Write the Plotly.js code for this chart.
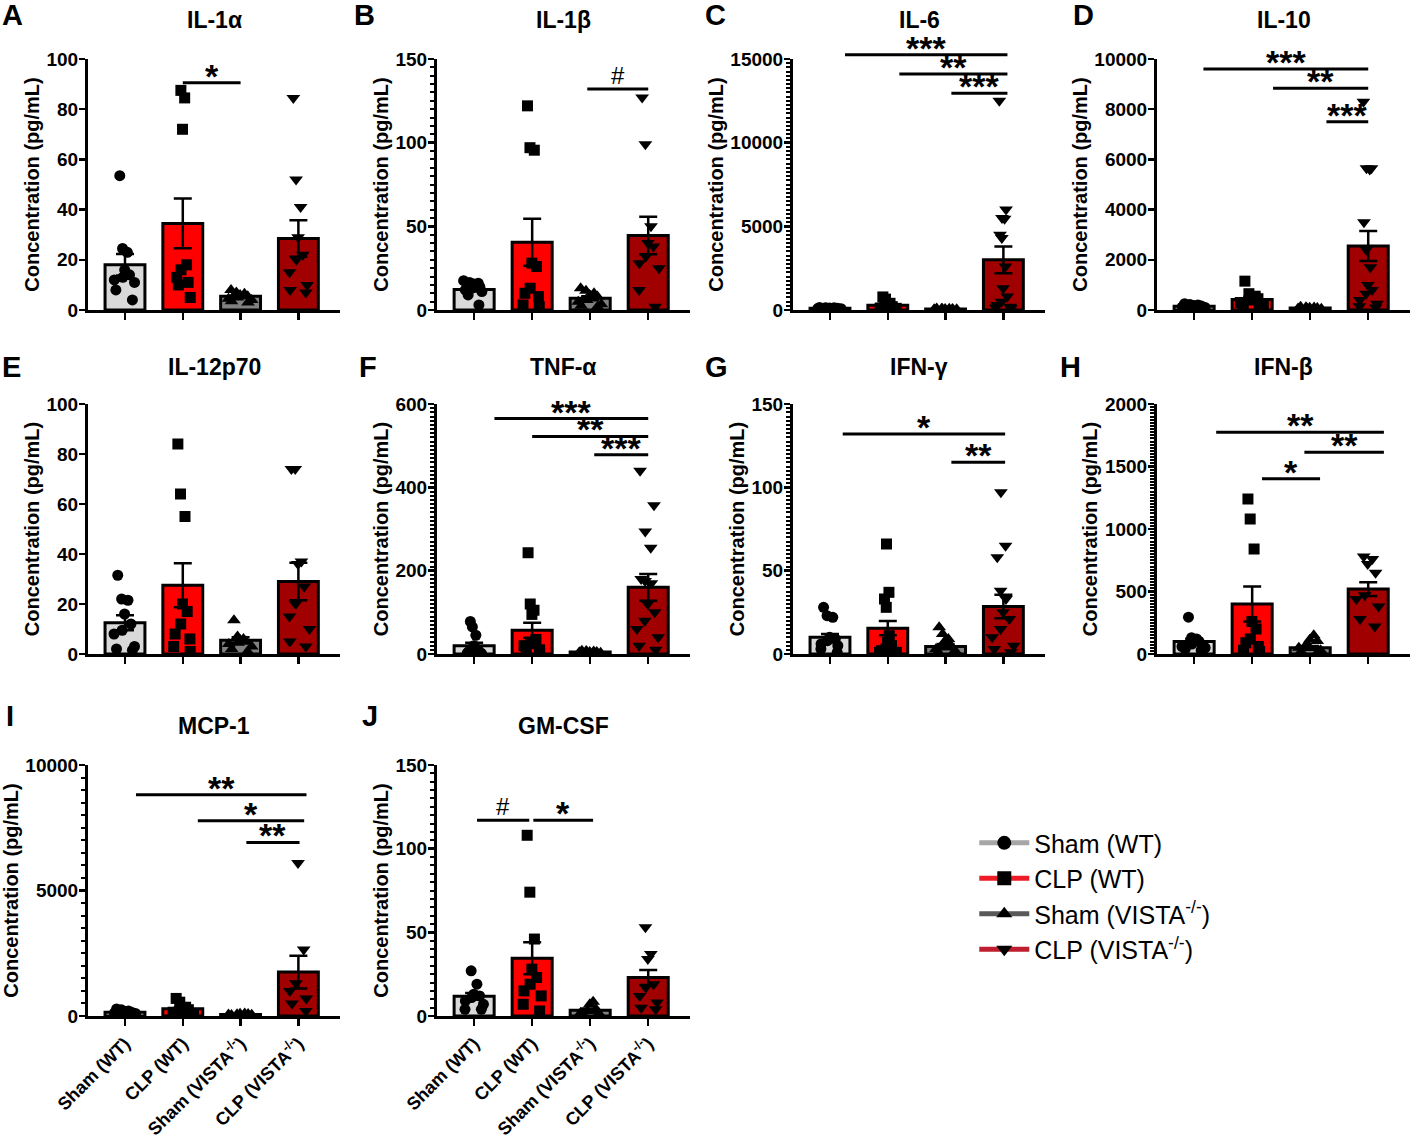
<!DOCTYPE html>
<html><head><meta charset="utf-8">
<script src="https://cdn.plot.ly/plotly-3.0.1.min.js"></script>
<style>body{margin:0;background:#fff}#chart{width:1412px;height:1139px}</style>
</head><body><div id="chart"></div><script>
// ---------- data ----------
const groups = ['Sham (WT)', 'CLP (WT)', 'Sham (VISTA<sup>-/-</sup>)', 'CLP (VISTA<sup>-/-</sup>)'];

const il1a_mean = [18, 34.5, 5.5, 28.5];
const il1a_sem  = [4.3, 9.9, 0.7, 7.3];
const il1a_pts  = [[53.5,24.5,23,16,14,13,12,11,8,4],[87.5,84.5,72,18,16,13,11,10,5],[8,7,6.5,6,5.5,5,4.5,4,3.5,3],[84.5,52,41,29,22,20,15,10,8,7]];
const il1a_sig  = [[1,2,90.5,'*']];

const il1b_mean = [12.2, 40.5, 7, 44.5];
const il1b_sem  = [1.2, 14, 1.2, 11.2];
const il1b_pts  = [[17.5,16.5,16,15.5,14,13,12,11,9,3],[122,97,95.5,28,26,13,10,8,3,2],[13,11.5,10,9,8,6,5,3.5,2.5,2],[127,99,50,40,38,32,28,25,12,2]];
const il1b_sig  = [[1.95,3.0,132,'#']];

const il6_mean = [100, 290, 60, 3000];
const il6_sem  = [10, 80, 5, 800];
const il6_pts  = [[150,140,130,120,110,100,90,80,70,60],[780,650,400,300,200,150,120,100,80,60],[90,80,70,65,60,55,50,45,40,35],[12500,6000,5500,5450,4500,4300,2600,1300,800,500,300,200,150,100]];
const il6_sig  = [[0.26,3.07,15250,'***'],[1.2,3.07,14100,'**'],[2.1,3.07,12950,'***']];

const il10_mean = [150, 420, 80, 2550];
const il10_sem  = [20, 110, 10, 600];
const il10_pts  = [[250,220,200,180,160,140,120,100,90,70],[1150,650,550,500,450,400,300,200,100,50],[130,110,100,90,80,70,60,50,40,30],[8300,5650,5650,5600,3500,2400,1700,1000,800,650,400,250,150,100]];
const il10_sig  = [[0.16,3.0,9600,'***'],[1.36,3.0,8830,'**'],[2.28,3.0,7500,'***']];

const il12_mean = [12.5, 27.5, 5.5, 29];
const il12_sem  = [3, 8.8, 1.2, 7.5];
const il12_pts  = [[31.5,22,21.5,16,12,9.5,8,3,2,1.5],[84,64,55,20,17,12,8,6,3,1],[13.5,7,6,5.5,5,4.5,4,3,2,1],[74,74,37,36,27,20,15,10,5,3]];
const il12_sig  = [];

const tnfa_mean = [20, 57, 5, 160];
const tnfa_sem  = [7, 18, 1, 32];
const tnfa_pts  = [[78,65,45,20,10,8,5,3,2,1],[243,120,105,95,35,25,20,10,5,2],[8,7,6,5,5,4,4,3,3,2],[440,357,294,255,180,175,170,120,100,80,60,40,20,10]];
const tnfa_sig  = [[0.35,3.0,565,'***'],[1.0,3.0,522,'**'],[2.07,3.0,478,'***']];

const ifng_mean = [10, 15.5, 4.5, 28.5];
const ifng_sem  = [2, 4.3, 1.5, 7];
const ifng_pts  = [[28,23,22,10,9,8,6,5,3,1],[66,37,33,28,11,7,5,3,2,1,1,0.5],[16,12,9,8,5,4,3,2,1,0.5],[97,65,58,38,33,25,21,15,10,5,3,1]];
const ifng_sig  = [[0.22,3.03,132,'*'],[2.1,3.03,115,'**']];

const ifnb_mean = [100, 400, 50, 520];
const ifnb_sem  = [22, 140, 15, 55];
const ifnb_pts  = [[295,130,120,110,100,80,60,50,40,30],[1240,1080,840,260,200,120,90,60,30,20],[150,115,105,80,50,30,20,10],[780,760,720,650,470,440,380,280,220]];
const ifnb_sig  = [[0.38,3.27,1775,'**'],[1.9,3.27,1614,'**'],[1.17,2.17,1402,'*']];

const mcp1_mean = [150, 290, 60, 1750];
const mcp1_sem  = [20, 60, 5, 650];
const mcp1_pts  = [[280,250,200,180,150,140,120,100,80,60],[700,550,350,300,250,200,150,100,80,50],[100,90,80,70,60,50,40,30],[6100,2650,1300,1000,700,500,200]];
const mcp1_sig  = [[0.19,3.14,8810,'**'],[1.26,3.1,7775,'*'],[2.1,3.02,6915,'**']];

const gmcsf_mean = [11.8, 34.5, 3.5, 23];
const gmcsf_sem  = [2, 9.5, 1, 4.5];
const gmcsf_pts  = [[27,19,13,12,11,9,7,4,4],[108,74,46,28,23,19,15,12,7,3],[8.5,7,4,3,2,1.5,1,0.5],[53,37,34,19,17,12,8,5,4]];
const gmcsf_sig  = [[0.05,0.95,117,'#'],[1.02,2.05,117,'*']];

// ---------- panel settings ----------
const panels = [
  {letter:'A', title:'IL-1α',   mean:il1a_mean, sem:il1a_sem, pts:il1a_pts, sig:il1a_sig, ymax:100,   dtick:20,   minor:0,   row:0, col:0, lx:0},
  {letter:'B', title:'IL-1β',   mean:il1b_mean, sem:il1b_sem, pts:il1b_pts, sig:il1b_sig, ymax:150,   dtick:50,   minor:5,   row:0, col:1, lx:352},
  {letter:'C', title:'IL-6',    mean:il6_mean,  sem:il6_sem,  pts:il6_pts,  sig:il6_sig,  ymax:15000, dtick:5000, minor:250, row:0, col:2, lx:703},
  {letter:'D', title:'IL-10',   mean:il10_mean, sem:il10_sem, pts:il10_pts, sig:il10_sig, ymax:10000, dtick:2000, minor:0,   row:0, col:3, lx:1071},
  {letter:'E', title:'IL-12p70',mean:il12_mean, sem:il12_sem, pts:il12_pts, sig:il12_sig, ymax:100,   dtick:20,   minor:0,   row:1, col:0, lx:0},
  {letter:'F', title:'TNF-α',   mean:tnfa_mean, sem:tnfa_sem, pts:tnfa_pts, sig:tnfa_sig, ymax:600,   dtick:200,  minor:10,  row:1, col:1, lx:357},
  {letter:'G', title:'IFN-γ',   mean:ifng_mean, sem:ifng_sem, pts:ifng_pts, sig:ifng_sig, ymax:150,   dtick:50,   minor:2.5, row:1, col:2, lx:703},
  {letter:'H', title:'IFN-β',   mean:ifnb_mean, sem:ifnb_sem, pts:ifnb_pts, sig:ifnb_sig, ymax:2000,  dtick:500,  minor:25,  row:1, col:3, lx:1058},
  {letter:'I', title:'MCP-1',   mean:mcp1_mean, sem:mcp1_sem, pts:mcp1_pts, sig:mcp1_sig, ymax:10000, dtick:5000, minor:500, row:2, col:0, lx:4},
  {letter:'J', title:'GM-CSF',  mean:gmcsf_mean,sem:gmcsf_sem,pts:gmcsf_pts,sig:gmcsf_sig,ymax:150,   dtick:50,   minor:5,   row:2, col:1, lx:360}
];

const W = 1412, H = 1139;
const colPx = [[88,340],[437,690],[793,1045],[1157,1410]];
const rowPx = [[59,310],[404,654],[765,1016]];
const titleY = [20, 367, 726];
const letterY = [15, 367, 716];
const barColors = ['#d9d9d9', '#ff0000', '#808080', '#a00000'];
const legendColors = ['#a6a6a6', '#ee1c25', '#595959', '#be1e2d'];
const symbols = ['circle', 'square', 'triangle-up', 'triangle-down'];
const FONT = 'Liberation Sans, Arial, sans-serif';

const data = [];
const layout = {
  width: W, height: H, margin: {l:0, r:0, t:0, b:0},
  paper_bgcolor: '#fff', plot_bgcolor: 'rgba(0,0,0,0)',
  showlegend: true, hovermode: false, boxmode: 'overlay',
  font: {family: FONT, color: '#000'},
  shapes: [], annotations: [],
  legend: {x: 0.690, y: 0.280, xanchor: 'left', yanchor: 'top', font: {family: FONT, size: 25, color: '#000'},
           itemwidth: 50, bgcolor: 'rgba(0,0,0,0)', tracegroupgap: 0}
};

panels.forEach((p, i) => {
  const n = i + 1;
  const xs = n === 1 ? '' : String(n);
  const xa = 'x' + xs, ya = 'y' + xs;
  data.push({
    type: 'bar', x: [0,1,2,3], y: p.mean, xaxis: xa, yaxis: ya, width: 0.69, showlegend: false,
    marker: {color: barColors, line: {color: '#000', width: 3}},
    error_y: {type: 'data', array: p.sem, symmetric: true, color: '#000', thickness: 2.5, width: 9},
    hoverinfo: 'skip'
  });
  p.pts.forEach((vals, g) => {
    data.push({
      type: 'box', x: vals.map(() => g), y: vals, xaxis: xa, yaxis: ya, showlegend: false,
      boxpoints: 'all', jitter: 0.9, pointpos: 0, width: 0.55,
      fillcolor: 'rgba(0,0,0,0)', line: {color: 'rgba(0,0,0,0)', width: 0}, whiskerwidth: 0,
      marker: {symbol: symbols[g], color: '#000', size: g >= 2 ? 12 : 11},
      hoverinfo: 'skip'
    });
  });
  const c = colPx[p.col], r = rowPx[p.row];
  layout['xaxis' + xs] = {
    domain: [c[0]/W, c[1]/W], range: [-0.64, 3.72], anchor: ya, fixedrange: true,
    showline: true, linewidth: 3, linecolor: '#000', showgrid: false, zeroline: false,
    ticks: 'outside', ticklen: 7, tickwidth: 2.5, tickcolor: '#000',
    tickmode: 'array', tickvals: [0,1,2,3], ticktext: groups,
    showticklabels: p.row === 2, tickangle: -45,
    tickfont: {family: FONT, size: 18, color: '#000', weight: 'bold'}
  };
  const yax = {
    domain: [1 - r[1]/H, 1 - r[0]/H], range: [0, p.ymax], anchor: xa, fixedrange: true,
    showline: true, linewidth: 3, linecolor: '#000', showgrid: false, zeroline: false,
    ticks: 'outside', ticklen: 6, tickwidth: 2.5, tickcolor: '#000', ticklabelstandoff: -3,
    tick0: 0, dtick: p.dtick, tickformat: 'd',
    tickfont: {family: FONT, size: 19, color: '#000', weight: 'bold'},
    title: {text: 'Concentration (pg/mL)', font: {family: FONT, size: 20, color: '#000', weight: 'bold'}, standoff: 2}
  };
  if (p.minor) yax.minor = {dtick: p.minor, tick0: 0, ticks: 'outside', ticklen: 4, tickwidth: 2, tickcolor: '#000', showgrid: false};
  layout['yaxis' + xs] = yax;

  // significance brackets: y given in data units, placed on the axis' domain scale so they may sit above the top tick
  p.sig.forEach(s => {
    const yd = s[2] / p.ymax;
    layout.shapes.push({type: 'line', xref: xa, yref: ya + ' domain', x0: s[0], x1: s[1], y0: yd, y1: yd, line: {color: '#000', width: 3}});
    const isHash = s[3] === '#';
    layout.annotations.push({xref: xa, yref: ya + ' domain', x: (s[0]+s[1])/2, y: yd, text: s[3], showarrow: false,
      yanchor: 'bottom', yshift: isHash ? -2 : -14,
      font: {family: FONT, size: isHash ? 24 : 34, color: '#000', weight: isHash ? 'normal' : 'bold'}});
  });

  layout.annotations.push({xref: 'paper', yref: 'paper', x: (c[0]+c[1])/2/W, y: 1 - titleY[p.row]/H,
    text: p.title, showarrow: false, xanchor: 'center', yanchor: 'middle',
    font: {family: FONT, size: 23, color: '#000', weight: 'bold'}});
  layout.annotations.push({xref: 'paper', yref: 'paper', x: p.lx/W, y: 1 - letterY[p.row]/H,
    text: p.letter, showarrow: false, xanchor: 'left', yanchor: 'middle',
    font: {family: FONT, size: 29, color: '#000', weight: 'bold'}});
});

groups.forEach((gname, g) => {
  data.push({type: 'scatter', x: [null], y: [null], xaxis: 'x', yaxis: 'y', mode: 'lines+markers', name: gname,
    line: {color: legendColors[g], width: 5}, marker: {symbol: symbols[g], color: '#000', size: 14}, hoverinfo: 'skip'});
});

Plotly.newPlot('chart', data, layout, {staticPlot: true, displayModeBar: false});
</script></body></html>
